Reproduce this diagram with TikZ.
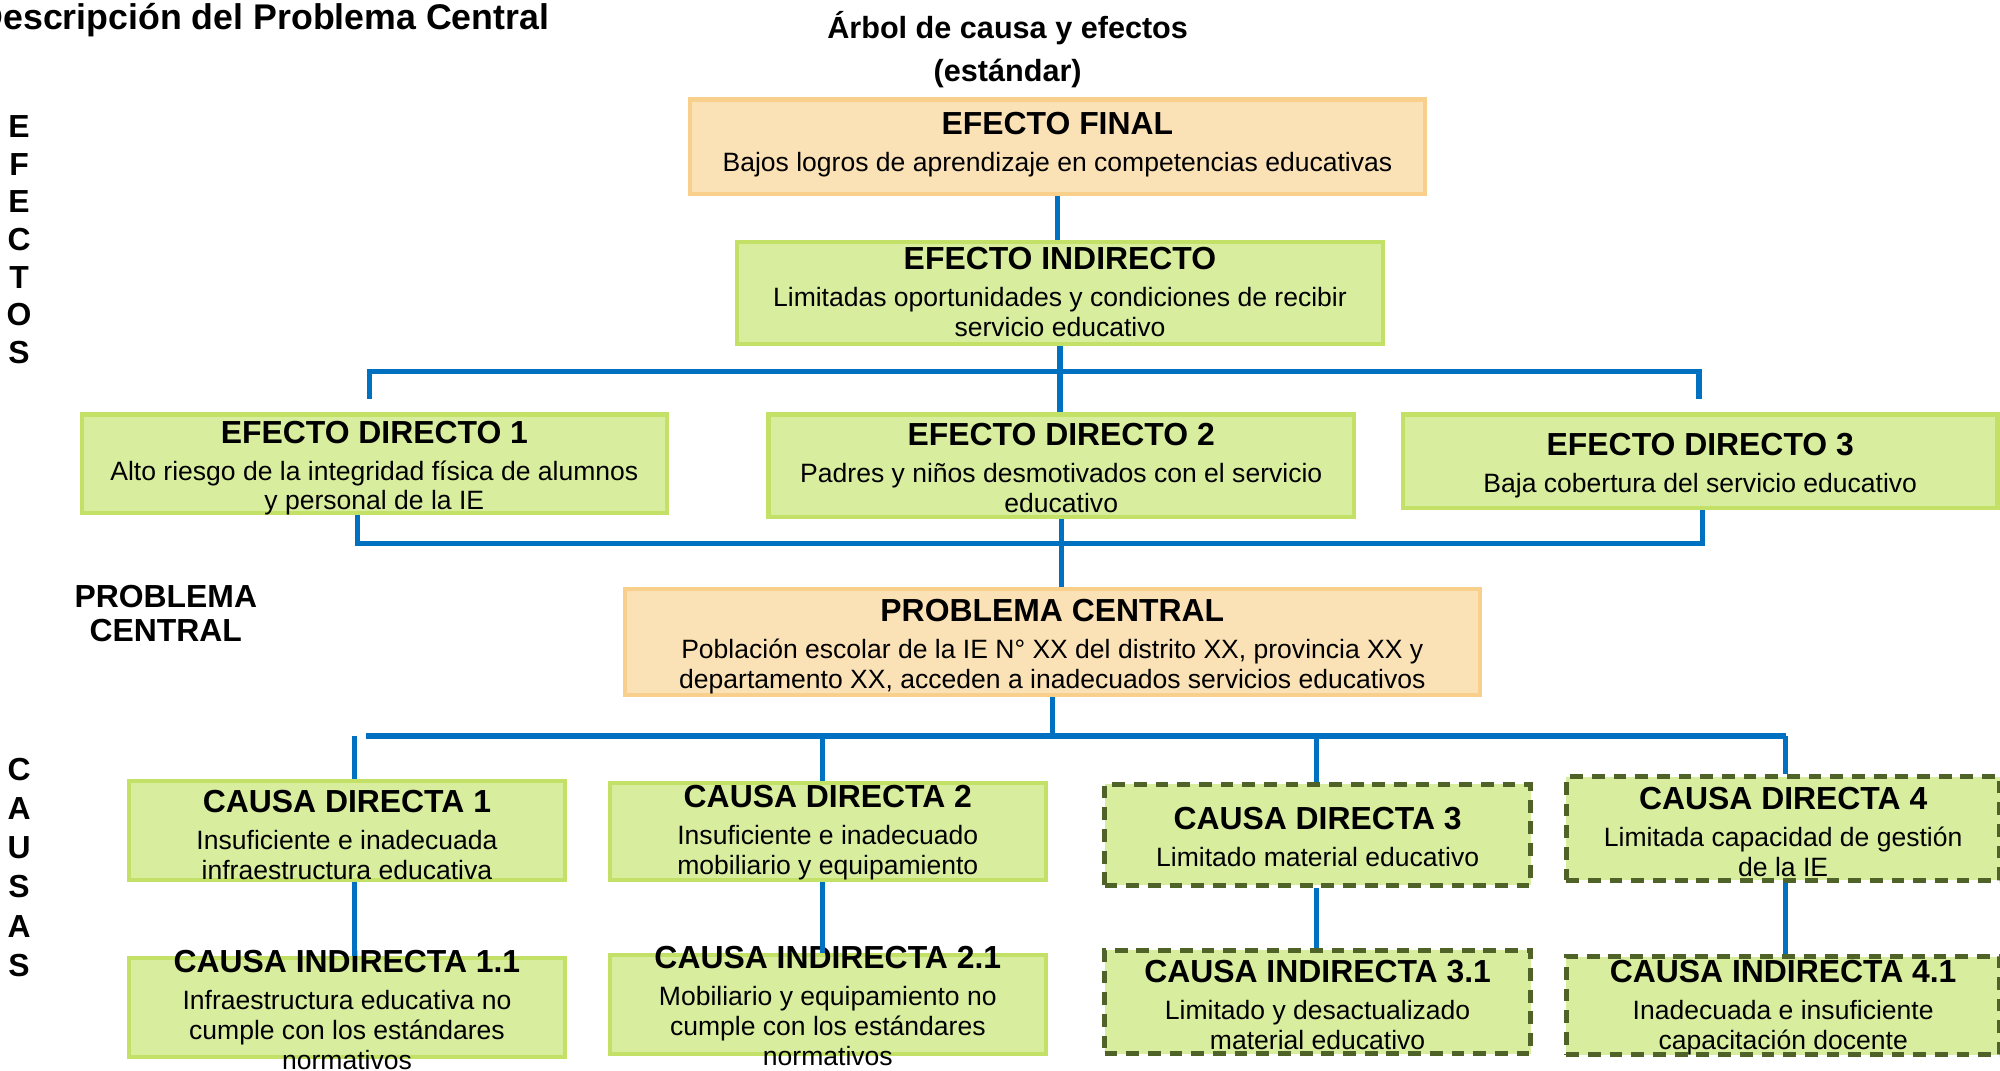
\documentclass[tikz,border=0pt]{standalone}
\usepackage{fontspec}
\setmainfont{Liberation Sans}
\usepackage{xcolor}
\usepackage{tikz}

\definecolor{naranjaFondo}{HTML}{FBE2B6}
\definecolor{naranjaBorde}{HTML}{F8D08C}
\definecolor{verdeFondo}{HTML}{D9ED9F}
\definecolor{verdeBorde}{HTML}{C3E067}
\definecolor{oliva}{HTML}{4F6228}
\definecolor{azul}{HTML}{0070C0}

\newcommand{\encabezado}[1]{{\fontsize{12.5}{14}\selectfont\bfseries #1}}

\begin{document}
\begin{tikzpicture}[x=0.5pt, y=-0.5pt,
            naranja/.style = {rectangle, fill=naranjaFondo, draw=naranjaBorde,
                        line width=1.6pt, inner sep=0pt},
            verde/.style = {rectangle, fill=verdeFondo, draw=verdeBorde,
                        line width=1.6pt, inner sep=0pt},
            discontinua/.style = {rectangle, fill=verdeFondo, draw=oliva,
                        line width=2pt, dash pattern=on 5pt off 3.5pt, inner sep=0pt},
            texto/.style = {align=center, inner sep=0pt,
                        font=\fontsize{10.4}{11.75}\selectfont},
            rotulo/.style = {align=center, inner sep=0pt,
                        font=\fontsize{12.5}{13}\selectfont\bfseries},
            linea/.style = {draw=azul, line width=2pt}]
            \useasboundingbox (0,0) rectangle (1568,839);

            % Titles
            \node[anchor=east, inner sep=0pt, font=\fontsize{14}{16}\selectfont\bfseries] (titulo) at (431,16) {Descripción del Problema Central};
            \node[align=center, inner sep=0pt, font=\fontsize{12}{17}\selectfont\bfseries] (arbol) at (790,39) {Árbol de causa y efectos\\(estándar)};
            \node[rotulo, font=\fontsize{12.5}{14.75}\selectfont\bfseries] (efectos) at (15,188) {E\\F\\E\\C\\T\\O\\S};
            \node[rotulo] (problema) at (130,481) {PROBLEMA\\CENTRAL};
            \node[rotulo, font=\fontsize{12.5}{15.4}\selectfont\bfseries] (causas) at (15,680) {C\\A\\U\\S\\A\\S};

            % Effects
            \node[naranja, minimum width=288pt, minimum height=37pt] (ef) at (829,115) {};
            \node[verde, minimum width=253.5pt, minimum height=40pt] (ei) at (831,230) {};
            \node[verde, minimum width=229.5pt, minimum height=38.5pt] (ed1) at (293.5,363.5) {};
            \node[verde, minimum width=229.5pt, minimum height=40pt] (ed2) at (832,365) {};
            \node[verde, minimum width=233pt, minimum height=36.5pt] (ed3) at (1333,361.5) {};

            % Central problem
            \node[naranja, minimum width=335pt, minimum height=41.5pt] (pc) at (825,503.5) {};

            % Direct causes
            \node[verde, minimum width=171pt, minimum height=39pt] (cd1) at (272,651) {};
            \node[verde, minimum width=171pt, minimum height=38pt] (cd2) at (649,652) {};
            \node[discontinua, minimum width=167pt, minimum height=39.5pt] (cd3) at (1033,654.5) {};
            \node[discontinua, minimum width=170pt, minimum height=40.5pt] (cd4) at (1398,649.5) {};

            % Indirect causes
            \node[verde, minimum width=171pt, minimum height=39pt] (ci1) at (272,790) {};
            \node[verde, minimum width=171pt, minimum height=38.5pt] (ci2) at (649,787.5) {};
            \node[discontinua, minimum width=167pt, minimum height=40.5pt] (ci3) at (1033,785.5) {};
            \node[discontinua, minimum width=170pt, minimum height=38.5pt] (ci4) at (1398,788.5) {};

            % Box texts
            \node[texto] (ef-txt) at (829,113) {\encabezado{EFECTO FINAL}\\[2.75pt]
                Bajos logros de aprendizaje en competencias educativas};
            \node[texto] (ei-txt) at (831,229) {\encabezado{EFECTO INDIRECTO}\\[2.75pt]
                Limitadas oportunidades y condiciones de recibir\\servicio educativo};
            \node[texto] (ed1-txt) at (293.5,367) {\encabezado{EFECTO DIRECTO 1}\\[2.75pt]
                Alto riesgo de la integridad física de alumnos\\y personal de la IE};
            \node[texto] (ed2-txt) at (832,367) {\encabezado{EFECTO DIRECTO 2}\\[2.75pt]
                Padres y niños desmotivados con el servicio\\educativo};
            \node[texto] (ed3-txt) at (1333,365) {\encabezado{EFECTO DIRECTO 3}\\[2.75pt]
                Baja cobertura del servicio educativo};
            \node[texto] (pc-txt) at (825,507) {\encabezado{PROBLEMA CENTRAL}\\[2.75pt]
                Población escolar de la IE N° XX del distrito XX, provincia XX y\\departamento XX, acceden a inadecuados servicios educativos};
            \node[texto] (cd1-txt) at (272,655) {\encabezado{CAUSA DIRECTA 1}\\[2.75pt]
                Insuficiente e inadecuada\\infraestructura educativa};
            \node[texto] (cd2-txt) at (649,653) {\encabezado{CAUSA DIRECTA 2}\\[2.75pt]
                Insuficiente e inadecuado\\mobiliario y equipamiento};
            \node[texto] (cd3-txt) at (1033,656) {\encabezado{CAUSA DIRECTA 3}\\[2.75pt]
                Limitado material educativo};
            \node[texto] (cd4-txt) at (1398,652) {\encabezado{CAUSA DIRECTA 4}\\[2.75pt]
                Limitada capacidad de gestión\\de la IE};
            \node[texto] (ci1-txt) at (272,792) {\encabezado{CAUSA INDIRECTA 1.1}\\[2.75pt]
                Infraestructura educativa no\\cumple con los estándares\\normativos};
            \node[texto] (ci2-txt) at (649,789) {\encabezado{CAUSA INDIRECTA 2.1}\\[2.75pt]
                Mobiliario y equipamiento no\\cumple con los estándares\\normativos};
            \node[texto] (ci3-txt) at (1033,788) {\encabezado{CAUSA INDIRECTA 3.1}\\[2.75pt]
                Limitado y desactualizado\\material educativo};
            \node[texto] (ci4-txt) at (1398,790) {\encabezado{CAUSA INDIRECTA 4.1}\\[2.75pt]
                Inadecuada e insuficiente\\capacitación docente};

            % Connectors, effects side
            \coordinate (b-izq) at (290,291);
            \coordinate (b-der) at (1332,291);
            \coordinate (b-izq-fin) at (290,313);
            \coordinate (b-der-fin) at (1332,313);
            \coordinate (c-izq) at (280,426);
            \coordinate (c-der) at (1335,426);
            \draw[linea] (ef.south) -- (ef.south |- ei.north);
            \draw[linea] (ei.south) -- (ei.south |- ed2.north);
            \draw[linea] (b-izq-fin) -- (b-izq) -- (b-der) -- (b-der-fin);
            \draw[linea] (c-izq |- ed1.south) -- (c-izq) -- (c-der) -- (c-der |- ed3.south);
            \draw[linea] (ed2.south) -- (ed2.south |- pc.north);

            % Connectors, causes side
            \coordinate (d-izq) at (287,577);
            \coordinate (d-der) at (1400,577);
            \coordinate (k1) at (278,577);
            \coordinate (k2) at (645,577);
            \coordinate (k3) at (1032,577);
            \coordinate (k4) at (1400,577);
            \draw[linea] (pc.south) -- (pc.south |- d-izq);
            \draw[linea] (d-izq) -- (d-der);
            \draw[linea] (k1) -- (k1 |- cd1.north);
            \draw[linea] (k2) -- (k2 |- cd2.north);
            \draw[linea] (k3) -- (k3 |- cd3.north);
            \draw[linea] (k4) -- (k4 |- cd4.north);
            \draw[linea] (k1 |- cd1.south) -- (k1 |- ci1.north);
            \draw[linea] (k2 |- cd2.south) -- (k2 |- ci2.north);
            \draw[linea] (k3 |- cd3.south) -- (k3 |- ci3.north);
            \draw[linea] (k4 |- cd4.south) -- (k4 |- ci4.north);
        \end{tikzpicture}
\end{document}
